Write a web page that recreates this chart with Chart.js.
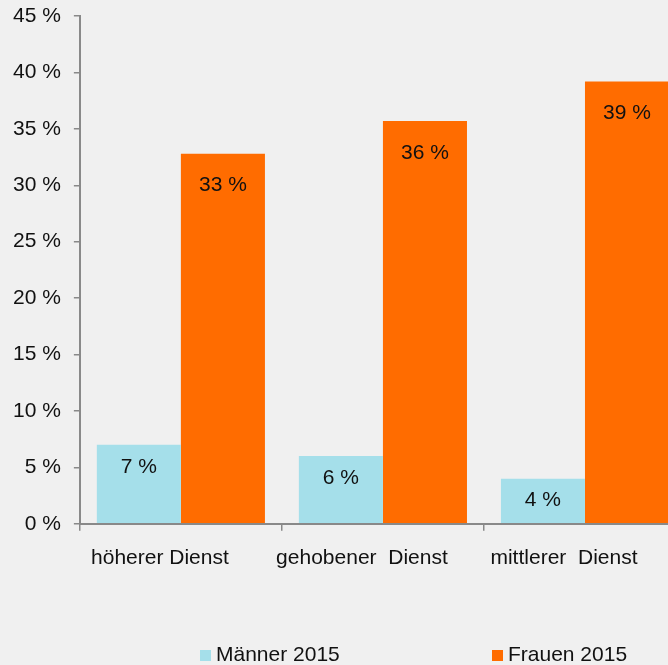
<!DOCTYPE html>
<html>
<head>
<meta charset="utf-8">
<script src="https://cdn.jsdelivr.net/npm/chart.js@4/dist/chart.umd.min.js"></script>
<style>
  html, body { margin: 0; padding: 0; background: #f0f0f0; overflow: hidden; }
  #wrap { width: 686px; height: 665px; }
</style>
</head>
<body>
<div id="wrap"><canvas id="c" width="686" height="665"></canvas></div>
<script>
const categories = ['höherer Dienst', 'gehobener  Dienst', 'mittlerer  Dienst'];
const seriesNames = ['Männer 2015', 'Frauen 2015'];
const maenner = [7.0, 6.0, 4.0];
const frauen = [32.8, 35.7, 39.2];
const yTicks = [0, 5, 10, 15, 20, 25, 30, 35, 40, 45];

const FONT = 'Liberation Sans, Arial, sans-serif';
const axisGray = '#898989';

// value labels inside the bars, near the top
const barLabels = {
    id: 'barLabels',
    afterDatasetsDraw(chart) {
        const ctx = chart.ctx;
        ctx.save();
        ctx.font = '21px ' + FONT;
        ctx.fillStyle = '#111';
        ctx.textAlign = 'center';
        ctx.textBaseline = 'middle';
        chart.data.datasets.forEach((ds, i) => {
            const off = i === 0 ? 22 : 32;
            chart.getDatasetMeta(i).data.forEach((bar, j) => {
                ctx.fillText(Math.round(ds.data[j]) + ' %', bar.x, bar.y + off);
            });
        });
        ctx.restore();
    }
};

// legend at the bottom, spread like the original
const bottomLegend = {
    id: 'bottomLegend',
    afterDraw(chart) {
        const ctx = chart.ctx;
        const xs = [200, 492];
        ctx.save();
        ctx.font = '21px ' + FONT;
        ctx.textBaseline = 'alphabetic';
        ctx.textAlign = 'left';
        chart.data.datasets.forEach((ds, i) => {
            ctx.fillStyle = ds.backgroundColor;
            ctx.fillRect(xs[i], 650, 11, 11);
            ctx.fillStyle = '#111';
            ctx.fillText(ds.label, xs[i] + 16, 661);
        });
        ctx.restore();
    }
};

new Chart(document.getElementById('c'), {
    type: 'bar',
    data: {
        labels: categories,
        datasets: [
            { label: seriesNames[0], data: maenner, backgroundColor: '#a5dfea' },
            { label: seriesNames[1], data: frauen, backgroundColor: '#ff6c00' }
        ]
    },
    options: {
        responsive: false,
        animation: false,
        devicePixelRatio: 1,
        layout: { padding: { left: 0, right: 0, top: 16, bottom: 79 } },
        datasets: { bar: { barPercentage: 1, categoryPercentage: 0.832 } },
        plugins: {
            legend: { display: false },
            tooltip: { enabled: false }
        },
        scales: {
            x: {
                grid: {
                    drawOnChartArea: false,
                    drawTicks: true,
                    tickLength: 7,
                    color: axisGray,
                    lineWidth: 1.5,
                    offset: true
                },
                border: { color: axisGray, width: 2 },
                ticks: {
                    color: '#111',
                    font: { family: FONT, size: 21 },
                    padding: 15,
                    labelOffset: -21,
                    maxRotation: 0,
                    autoSkip: false
                }
            },
            y: {
                min: 0,
                max: 45,
                afterBuildTicks(scale) {
                    scale.ticks = yTicks.map(v => ({ value: v }));
                },
                afterFit(scale) {
                    // top label may touch the canvas edge like the original
                    scale.paddingTop = 0;
                    scale.paddingBottom = 0;
                },
                grid: {
                    drawOnChartArea: false,
                    drawTicks: true,
                    tickLength: 6,
                    color: axisGray,
                    lineWidth: 1.5
                },
                border: { color: axisGray, width: 2 },
                ticks: {
                    color: '#111',
                    font: { family: FONT, size: 21 },
                    padding: 13,
                    callback: v => v + ' %'
                }
            }
        }
    },
    plugins: [barLabels, bottomLegend]
});
</script>
</body>
</html>
